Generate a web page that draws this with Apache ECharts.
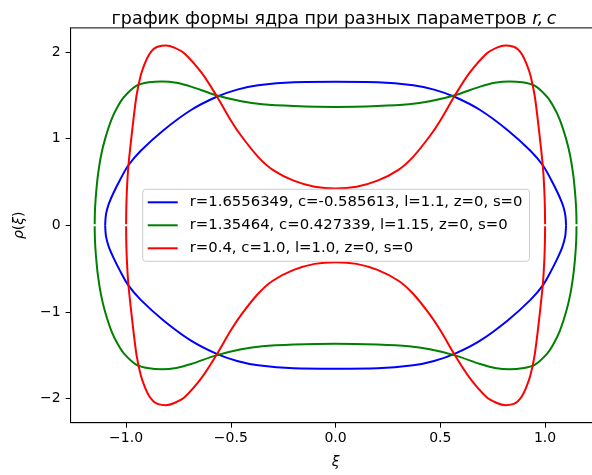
<!DOCTYPE html>
<html>
<head>
<meta charset="utf-8">
<script src="https://cdn.jsdelivr.net/npm/echarts@6/dist/echarts.min.js"></script>
<style>
  html, body { margin: 0; padding: 0; background: #ffffff; overflow: hidden; width: 592px; height: 475px; }
  #chart { width: 620px; height: 475px; }
</style>
</head>
<body>
<div id="chart"></div>
<script>
// ---- data (upper branch, rho >= 0) ----
const seriesNames = [
  'r=1.6556349, c=-0.585613, l=1.1, z=0, s=0',
  'r=1.35464, c=0.427339, l=1.15, z=0, s=0',
  'r=0.4, c=1.0, l=1.0, z=0, s=0'
];
const xiBlue  = [-1.1, -1.097, -1.09, -1.08, -1.06, -1.03, -0.99, -0.93, -0.82, -0.69, -0.57, -0.47, -0.37, -0.2, 0,
                 0.2, 0.37, 0.47, 0.57, 0.69, 0.82, 0.93, 0.99, 1.03, 1.06, 1.08, 1.09, 1.097, 1.1];
const rhoBlue = [0, 0.11, 0.19, 0.265, 0.375, 0.52, 0.69, 0.86, 1.10, 1.33, 1.48, 1.565, 1.615, 1.65, 1.655,
                 1.65, 1.615, 1.565, 1.48, 1.33, 1.10, 0.86, 0.69, 0.52, 0.375, 0.265, 0.19, 0.11, 0];

const xiGreen  = [-1.15, -1.149, -1.147, -1.143, -1.135, -1.12, -1.10, -1.07, -1.04, -1.01, -0.95, -0.89, -0.83, -0.76, -0.69, -0.57, -0.45, -0.35, -0.2, 0,
                  0.2, 0.35, 0.45, 0.57, 0.69, 0.76, 0.83, 0.89, 0.95, 1.01, 1.04, 1.07, 1.10, 1.12, 1.135, 1.143, 1.147, 1.149, 1.15];
const rhoGreen = [0.012, 0.15, 0.25, 0.38, 0.57, 0.80, 1.00, 1.22, 1.37, 1.48, 1.61, 1.65, 1.66, 1.645, 1.60, 1.50, 1.43, 1.395, 1.375, 1.365,
                  1.375, 1.395, 1.43, 1.50, 1.60, 1.645, 1.66, 1.65, 1.61, 1.48, 1.37, 1.22, 1.00, 0.80, 0.57, 0.38, 0.25, 0.15, 0.012];

const xiRed  = [-1.0, -0.999, -0.996, -0.99, -0.98, -0.965, -0.95, -0.93, -0.91, -0.89, -0.87, -0.85, -0.81, -0.77, -0.72, -0.64, -0.57, -0.5, -0.45, -0.37, -0.3, -0.2, -0.1, 0,
                0.1, 0.2, 0.3, 0.37, 0.45, 0.5, 0.57, 0.64, 0.72, 0.77, 0.81, 0.85, 0.87, 0.89, 0.91, 0.93, 0.95, 0.965, 0.98, 0.99, 0.996, 0.999, 1.0];
const rhoRed = [0.012, 0.21, 0.42, 0.66, 0.90, 1.22, 1.50, 1.73, 1.87, 1.97, 2.03, 2.06, 2.075, 2.05, 1.98, 1.76, 1.50, 1.21, 1.03, 0.79, 0.64, 0.515, 0.445, 0.425,
                0.445, 0.515, 0.64, 0.79, 1.03, 1.21, 1.50, 1.76, 1.98, 2.05, 2.075, 2.06, 2.03, 1.97, 1.87, 1.73, 1.50, 1.22, 0.90, 0.66, 0.42, 0.21, 0.012];

const xTicks = [-1.0, -0.5, 0.0, 0.5, 1.0];
const yTicks = [-2, -1, 0, 1, 2];
const colors = ['#0000ff', '#008000', '#ff0000'];

// ---- build ----
function upper(xs, ys) { return xs.map((x, i) => [x, ys[i]]); }
function lower(xs, ys) { return xs.map((x, i) => [x, -ys[i]]); }
const curves = [[xiBlue, rhoBlue], [xiGreen, rhoGreen], [xiRed, rhoRed]];
const series = [];
curves.forEach((c, k) => {
  [upper(c[0], c[1]), lower(c[0], c[1])].forEach(d => {
    series.push({
      name: seriesNames[k], type: 'line', data: d,
      xAxisIndex: 0, yAxisIndex: 0,
      showSymbol: false, symbol: 'none', smooth: 0.3,
      lineStyle: { color: colors[k], width: 2 },
      itemStyle: { color: colors[k] },
      z: 2 + k, animation: false
    });
  });
});
const minus = v => (v < 0 ? '\u2212' : '') + Math.abs(v);
const font = 'DejaVu Sans';
const spine = { show: true, onZero: false, lineStyle: { color: '#000', width: 1 } };

const chart = echarts.init(document.getElementById('chart'), null, { renderer: 'canvas', width: 620, height: 475 });
chart.setOption({
  backgroundColor: '#ffffff',
  animation: false,
  title: {
    text: 'график формы ядра при разных параметров {i|r,\u2009c}',
    left: 329, top: 5, textAlign: 'center',
    textStyle: {
      fontFamily: font, fontSize: 17.5, fontWeight: 'normal', color: '#000',
      rich: { i: { fontFamily: font, fontSize: 17.5, fontStyle: 'italic', color: '#000' } }
    }
  },
  grid: { left: 70.6, top: 27.9, width: 530, height: 394.8, outerBoundsMode: 'none', containLabel: false,
          show: true, borderColor: '#000', borderWidth: 1, backgroundColor: 'transparent' },
  legend: {
    data: seriesNames,
    orient: 'vertical', left: 142.7, top: 189.3,
    icon: 'rect', itemWidth: 30, itemHeight: 2, itemGap: 8,
    padding: [5.5, 7, 5.5, 5],
    backgroundColor: 'rgba(255,255,255,0.8)', borderColor: '#cccccc', borderWidth: 1, borderRadius: 3,
    textStyle: { fontFamily: font, fontSize: 14.85, lineHeight: 14, color: '#000', padding: [0, 0, 0, 7] },
    z: 10
  },
  xAxis: {
    type: 'value', min: -1.265, max: 1.265, position: 'bottom',
    axisLine: spine,
    axisTick: { show: true, length: 5, inside: false, customValues: xTicks, lineStyle: { color: '#000', width: 1 } },
    axisLabel: { customValues: xTicks, margin: 9, fontFamily: font, fontSize: 14, color: '#000',
      formatter: v => (v < 0 ? '\u2212' : '') + Math.abs(v).toFixed(1) },
    splitLine: { show: false },
    name: '{i|ξ}', nameLocation: 'middle', nameGap: 33,
    nameTextStyle: { fontFamily: font, fontSize: 14, color: '#000', rich: { i: { fontFamily: font, fontSize: 14, fontStyle: 'italic', color: '#000' } } }
  },
  yAxis: {
    type: 'value', min: -2.277, max: 2.277, position: 'left',
    axisLine: spine,
    axisTick: { show: true, length: 5, inside: false, customValues: yTicks, lineStyle: { color: '#000', width: 1 } },
    axisLabel: { customValues: yTicks, margin: 10, fontFamily: font, fontSize: 14, color: '#000', formatter: v => minus(v) },
    splitLine: { show: false },
    name: '{i|ρ}({i|ξ})', nameLocation: 'middle', nameGap: 44, nameRotate: 90,
    nameTextStyle: { fontFamily: font, fontSize: 14, color: '#000', rich: { i: { fontFamily: font, fontSize: 14, fontStyle: 'italic', color: '#000' } } }
  },
  series: series
});
</script>
</body>
</html>
